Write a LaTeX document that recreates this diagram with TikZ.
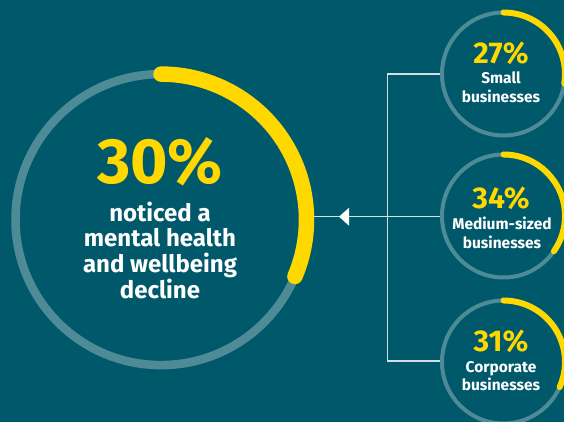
\documentclass[tikz,border=0pt]{standalone}
\usepackage{fontspec}
\setmainfont{Fira Sans}
\definecolor{bg}{HTML}{00596A}
\definecolor{ring}{HTML}{4F8B97}
\definecolor{gold}{HTML}{FFD800}
\definecolor{conn}{HTML}{D5DEE1}
\tikzset{
  bigring/.style={circle, draw=ring, line width=8.5pt, minimum size=291pt, inner sep=0pt},
  smallring/.style={circle, draw=ring, line width=4pt, minimum size=123pt, inner sep=0pt},
  bigarc/.style={draw=gold, line width=15.5pt, line cap=round},
  smallarc/.style={draw=gold, line width=6pt, line cap=round},
  connector/.style={draw=conn, line width=1.4pt},
  bigpct/.style={text=gold, font=\bfseries\fontsize{64}{64}\selectfont, anchor=base, inner sep=0pt},
  bigtxt/.style={text=white, font=\bfseries\fontsize{24}{26}\selectfont, anchor=base, inner sep=0pt},
  smallpct/.style={text=gold, font=\bfseries\fontsize{30}{30}\selectfont, anchor=base, inner sep=0pt},
  smalltxt/.style={text=white, font=\bfseries\fontsize{15.5}{18}\selectfont, anchor=base, inner sep=0pt},
}
\begin{document}
\begin{tikzpicture}[x=1pt,y=1pt]
\fill[bg] (0,0) rectangle (564,422);
\useasboundingbox (0,0) rectangle (564,422);

% connectors
\node[bigring] (big) at (161,202.4) {};
\node[smallring] (small) at (503.5,348) {};
\node[smallring] (medium) at (503.5,206) {};
\node[smallring] (corp) at (503.5,60) {};
\coordinate (vtop) at (387.3,348);
\coordinate (vbot) at (387.3,61);
\draw[connector] (small.west) -- (vtop) -- (vbot) -- (corp.west |- vbot);
\coordinate (midl) at (300,205.3);
\draw[connector] (medium.west |- midl) -- (midl);
\coordinate (tip) at (339,205.3);
\fill[white] (tip) -- ++(10,9) -- ++(0,-18) -- cycle;

% arcs
\draw[bigarc] (161,347.9) arc[start angle=90, end angle=-23, radius=145.5];
\draw[smallarc] (503.5,409.5) arc[start angle=90, end angle=-9, radius=61.5];
\draw[smallarc] (503.5,267.5) arc[start angle=90, end angle=-35, radius=61.5];
\draw[smallarc] (503.5,121.5) arc[start angle=90, end angle=-24, radius=61.5];

% big texts
\node[bigpct] (p30) at (160,238.7) {30\%};
\node[bigtxt] (t1) at (160,200.3) {noticed a};
\node[bigtxt] (t2) at (160,175.3) {mental health};
\node[bigtxt] (t3) at (160,149.3) {and wellbeing};
\node[bigtxt] (t4) at (160,123) {decline};

% small texts
\node[smallpct] (p27) at (501,358.7) {27\%};
\node[smalltxt] (s1) at (501,338) {Small};
\node[smalltxt] (s2) at (501,319.3) {businesses};
\node[smallpct] (p34) at (501,213.7) {34\%};
\node[smalltxt] (m1) at (502,192.7) {Medium-sized};
\node[smalltxt] (m2) at (502,173.7) {businesses};
\node[smallpct] (p31) at (501,70.3) {31\%};
\node[smalltxt] (c1) at (501,49.3) {Corporate};
\node[smalltxt] (c2) at (501,31) {businesses};
\end{tikzpicture}
\end{document}
